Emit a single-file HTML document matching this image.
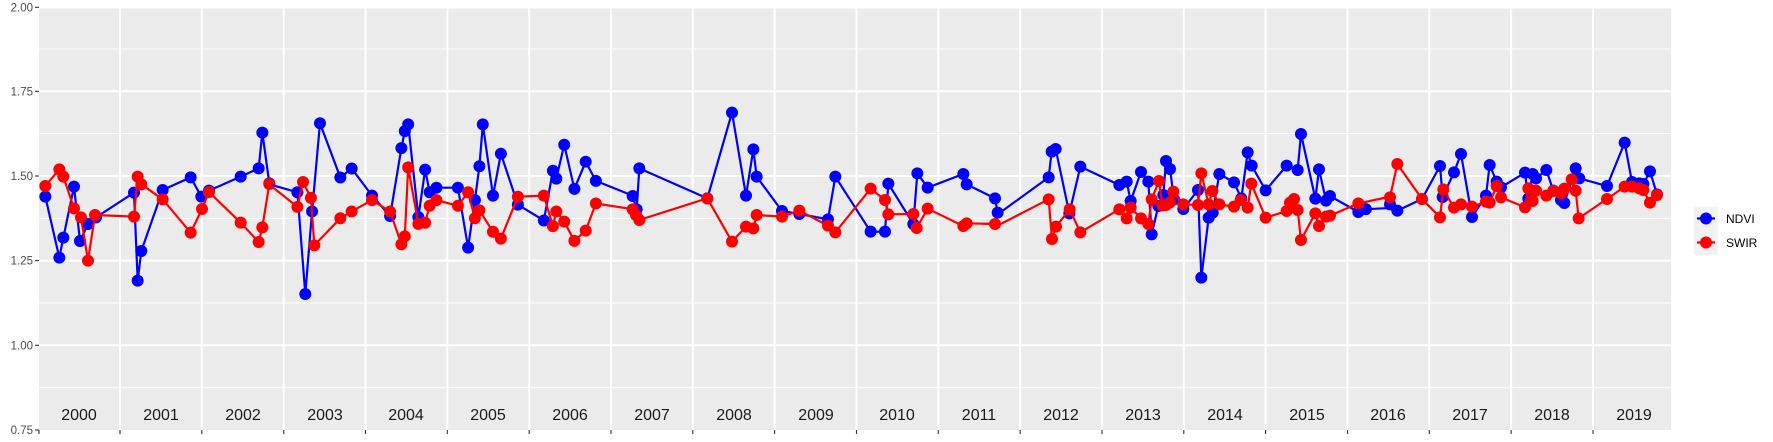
<!DOCTYPE html>
<html><head><meta charset="utf-8"><style>
html,body{margin:0;padding:0;background:#fff;}
svg{display:block;font-family:"Liberation Sans",sans-serif;}
</style></head><body>
<svg width="1773" height="442" viewBox="0 0 1773 442" xmlns="http://www.w3.org/2000/svg">
<rect x="39" y="6.6" width="1632" height="423.4" fill="#ebebeb"/>
<g stroke="#fff" stroke-width="0.9">
<line x1="39" x2="1671" y1="48.9" y2="48.9"/><line x1="39" x2="1671" y1="133.6" y2="133.6"/>
<line x1="39" x2="1671" y1="218.3" y2="218.3"/><line x1="39" x2="1671" y1="303" y2="303"/>
<line x1="39" x2="1671" y1="387.7" y2="387.7"/>
</g>
<g stroke="#fff" stroke-width="2">
<line x1="39" x2="1671" y1="7.5" y2="7.5"/><line x1="39" x2="1671" y1="91.3" y2="91.3"/>
<line x1="39" x2="1671" y1="176" y2="176"/><line x1="39" x2="1671" y1="260.6" y2="260.6"/>
<line x1="39" x2="1671" y1="345.3" y2="345.3"/>
<line x1="120" x2="120" y1="7" y2="430"/><line x1="201.8" x2="201.8" y1="7" y2="430"/>
<line x1="283.7" x2="283.7" y1="7" y2="430"/><line x1="365.5" x2="365.5" y1="7" y2="430"/>
<line x1="447.3" x2="447.3" y1="7" y2="430"/><line x1="529.2" x2="529.2" y1="7" y2="430"/>
<line x1="611" x2="611" y1="7" y2="430"/><line x1="692.8" x2="692.8" y1="7" y2="430"/>
<line x1="774.6" x2="774.6" y1="7" y2="430"/><line x1="856.5" x2="856.5" y1="7" y2="430"/>
<line x1="938.3" x2="938.3" y1="7" y2="430"/><line x1="1020.1" x2="1020.1" y1="7" y2="430"/>
<line x1="1102" x2="1102" y1="7" y2="430"/><line x1="1183.8" x2="1183.8" y1="7" y2="430"/>
<line x1="1265.6" x2="1265.6" y1="7" y2="430"/><line x1="1347.5" x2="1347.5" y1="7" y2="430"/>
<line x1="1429.3" x2="1429.3" y1="7" y2="430"/><line x1="1511.1" x2="1511.1" y1="7" y2="430"/>
<line x1="1593" x2="1593" y1="7" y2="430"/>
</g>
<g stroke="#333" stroke-width="1.1">
<line x1="35" x2="39" y1="7.3" y2="7.3"/><line x1="35" x2="39" y1="91.3" y2="91.3"/>
<line x1="35" x2="39" y1="176" y2="176"/><line x1="35" x2="39" y1="260.6" y2="260.6"/>
<line x1="35" x2="39" y1="345.3" y2="345.3"/><line x1="35" x2="39" y1="430" y2="430"/>
<line x1="39" x2="39" y1="430" y2="434"/>
<line x1="120" x2="120" y1="430" y2="434"/><line x1="201.8" x2="201.8" y1="430" y2="434"/>
<line x1="283.7" x2="283.7" y1="430" y2="434"/><line x1="365.5" x2="365.5" y1="430" y2="434"/>
<line x1="447.3" x2="447.3" y1="430" y2="434"/><line x1="529.2" x2="529.2" y1="430" y2="434"/>
<line x1="611" x2="611" y1="430" y2="434"/><line x1="692.8" x2="692.8" y1="430" y2="434"/>
<line x1="774.6" x2="774.6" y1="430" y2="434"/><line x1="856.5" x2="856.5" y1="430" y2="434"/>
<line x1="938.3" x2="938.3" y1="430" y2="434"/><line x1="1020.1" x2="1020.1" y1="430" y2="434"/>
<line x1="1102" x2="1102" y1="430" y2="434"/><line x1="1183.8" x2="1183.8" y1="430" y2="434"/>
<line x1="1265.6" x2="1265.6" y1="430" y2="434"/><line x1="1347.5" x2="1347.5" y1="430" y2="434"/>
<line x1="1429.3" x2="1429.3" y1="430" y2="434"/><line x1="1511.1" x2="1511.1" y1="430" y2="434"/>
<line x1="1593" x2="1593" y1="430" y2="434"/>
</g>
<g font-size="11.5" fill="#4d4d4d" text-anchor="end">
<text x="33" y="11.5">2.00</text><text x="33" y="95.5">1.75</text><text x="33" y="180">1.50</text>
<text x="33" y="264.5">1.25</text><text x="33" y="349.5">1.00</text><text x="33" y="434">0.75</text>
</g>
<g font-size="16" fill="#1a1a1a" text-anchor="middle">
<text x="79" y="420">2000</text><text x="161" y="420">2001</text><text x="243" y="420">2002</text>
<text x="325" y="420">2003</text><text x="406" y="420">2004</text><text x="488" y="420">2005</text>
<text x="570" y="420">2006</text><text x="652" y="420">2007</text><text x="734" y="420">2008</text>
<text x="816" y="420">2009</text><text x="897" y="420">2010</text><text x="979" y="420">2011</text>
<text x="1061" y="420">2012</text><text x="1143" y="420">2013</text><text x="1225" y="420">2014</text>
<text x="1307" y="420">2015</text><text x="1388" y="420">2016</text><text x="1470" y="420">2017</text>
<text x="1552" y="420">2018</text><text x="1634" y="420">2019</text>
</g>

<!-- zoom1 (2000-2002) -->
<g transform="scale(0.33333)">
<polyline fill="none" stroke="#0000ff" stroke-width="6.6" points="136,590 178,773 190,713 222,560 240,723 264,672 288,652 402,578 413,842 424,753 488,570 572,532 604,590 627,572 722,530 776,505 787,398 808,550"/>
<g fill="#0000ff"><circle cx="136" cy="590" r="18"/><circle cx="178" cy="773" r="18"/><circle cx="190" cy="713" r="18"/><circle cx="222" cy="560" r="18"/><circle cx="240" cy="723" r="18"/><circle cx="264" cy="672" r="18"/><circle cx="288" cy="652" r="18"/><circle cx="402" cy="578" r="18"/><circle cx="413" cy="842" r="18"/><circle cx="424" cy="753" r="18"/><circle cx="488" cy="570" r="18"/><circle cx="572" cy="532" r="18"/><circle cx="604" cy="590" r="18"/><circle cx="627" cy="572" r="18"/><circle cx="722" cy="530" r="18"/><circle cx="776" cy="505" r="18"/><circle cx="787" cy="398" r="18"/><circle cx="808" cy="550" r="18"/></g>
<polyline fill="none" stroke="#ff0000" stroke-width="6.6" points="136,558 178,508 190,530 222,625 243,652 264,782 285,645 402,650 413,530 424,553 488,598 572,698 606,627 627,576 722,668 776,726 787,682 808,552"/>
<g fill="#ff0000"><circle cx="136" cy="558" r="18"/><circle cx="178" cy="508" r="18"/><circle cx="190" cy="530" r="18"/><circle cx="222" cy="625" r="18"/><circle cx="243" cy="652" r="18"/><circle cx="264" cy="782" r="18"/><circle cx="285" cy="645" r="18"/><circle cx="402" cy="650" r="18"/><circle cx="413" cy="530" r="18"/><circle cx="424" cy="553" r="18"/><circle cx="488" cy="598" r="18"/><circle cx="572" cy="698" r="18"/><circle cx="606" cy="627" r="18"/><circle cx="627" cy="576" r="18"/><circle cx="722" cy="668" r="18"/><circle cx="776" cy="726" r="18"/><circle cx="787" cy="682" r="18"/><circle cx="808" cy="552" r="18"/></g>
</g>

<!-- thumbnail coords: 2003-2007 and 2016 start -->
<g transform="scale(1.1307)">
<polyline fill="none" stroke="#0000ff" stroke-width="1.95" points="238,163 263,170 270,260 276,187 283,109 301,157 311,149 329,173 345,191 355,131 358,116 361,110 370,192 376,150 380,170 386,166 405,166 414,219 420,177 424,147 427,110 436,173 443,136 458,181 481,195 489,151 492,158 499,128 508,167 518,143 527,160 559.5,173"/>
<g fill="#0000ff">
<circle cx="263" cy="170" r="5.3"/><circle cx="270" cy="260" r="5.3"/><circle cx="276" cy="187" r="5.3"/><circle cx="283" cy="109" r="5.3"/><circle cx="301" cy="157" r="5.3"/><circle cx="311" cy="149" r="5.3"/><circle cx="329" cy="173" r="5.3"/><circle cx="345" cy="191" r="5.3"/><circle cx="355" cy="131" r="5.3"/><circle cx="358" cy="116" r="5.3"/><circle cx="361" cy="110" r="5.3"/><circle cx="370" cy="192" r="5.3"/><circle cx="376" cy="150" r="5.3"/><circle cx="380" cy="170" r="5.3"/><circle cx="386" cy="166" r="5.3"/><circle cx="405" cy="166" r="5.3"/><circle cx="414" cy="219" r="5.3"/><circle cx="420" cy="177" r="5.3"/><circle cx="424" cy="147" r="5.3"/><circle cx="427" cy="110" r="5.3"/><circle cx="436" cy="173" r="5.3"/><circle cx="443" cy="136" r="5.3"/><circle cx="458" cy="181" r="5.3"/><circle cx="481" cy="195" r="5.3"/><circle cx="489" cy="151" r="5.3"/><circle cx="492" cy="158" r="5.3"/><circle cx="499" cy="128" r="5.3"/><circle cx="508" cy="167" r="5.3"/><circle cx="518" cy="143" r="5.3"/><circle cx="527" cy="160" r="5.3"/>
</g>
<polyline fill="none" stroke="#ff0000" stroke-width="1.95" points="238,163 263,183 268,161 275,175 278,217 301,193 311,187 329,177 345,187 355,216 358,209 361,148 370,198 376,197 380,182 386,177 405,182 414,170 420,193 424,186 436,205 443,211 458,174 481,173 489,200 492,187 499,196 508,213 518,204 527,180 559.5,185"/>
<g fill="#ff0000">
<circle cx="263" cy="183" r="5.3"/><circle cx="268" cy="161" r="5.3"/><circle cx="275" cy="175" r="5.3"/><circle cx="278" cy="217" r="5.3"/><circle cx="301" cy="193" r="5.3"/><circle cx="311" cy="187" r="5.3"/><circle cx="329" cy="177" r="5.3"/><circle cx="345" cy="187" r="5.3"/><circle cx="355" cy="216" r="5.3"/><circle cx="358" cy="209" r="5.3"/><circle cx="361" cy="148" r="5.3"/><circle cx="370" cy="198" r="5.3"/><circle cx="376" cy="197" r="5.3"/><circle cx="380" cy="182" r="5.3"/><circle cx="386" cy="177" r="5.3"/><circle cx="405" cy="182" r="5.3"/><circle cx="414" cy="170" r="5.3"/><circle cx="420" cy="193" r="5.3"/><circle cx="424" cy="186" r="5.3"/><circle cx="436" cy="205" r="5.3"/><circle cx="443" cy="211" r="5.3"/><circle cx="458" cy="174" r="5.3"/><circle cx="481" cy="173" r="5.3"/><circle cx="489" cy="200" r="5.3"/><circle cx="492" cy="187" r="5.3"/><circle cx="499" cy="196" r="5.3"/><circle cx="508" cy="213" r="5.3"/><circle cx="518" cy="204" r="5.3"/><circle cx="527" cy="180" r="5.3"/>
</g>
<polyline fill="none" stroke="#0000ff" stroke-width="1.95" points="1201,187.5 1208,185 1229,184"/>
<circle cx="1208" cy="185" r="5.3" fill="#0000ff"/>
<polyline fill="none" stroke="#ff0000" stroke-width="1.95" points="1201,180 1229,174"/>
</g>

<!-- zoom A (x 620-1000) -->
<g transform="translate(620,80) scale(0.33333)">
<polyline fill="none" stroke="#0000ff" stroke-width="6.6" points="38,348 50,388 58,265 262,355 336,98 378,347 400,208 410,290 486,393 538,402 624,418 646,290 752,455 795,455 805,311 880,432 892,280 923,323 1030,282 1040,313 1125,355 1133,398"/>
<g fill="#0000ff"><circle cx="38" cy="348" r="18"/><circle cx="50" cy="388" r="18"/><circle cx="58" cy="265" r="18"/><circle cx="262" cy="355" r="18"/><circle cx="336" cy="98" r="18"/><circle cx="378" cy="347" r="18"/><circle cx="400" cy="208" r="18"/><circle cx="410" cy="290" r="18"/><circle cx="486" cy="393" r="18"/><circle cx="538" cy="402" r="18"/><circle cx="624" cy="418" r="18"/><circle cx="646" cy="290" r="18"/><circle cx="752" cy="455" r="18"/><circle cx="795" cy="455" r="18"/><circle cx="805" cy="311" r="18"/><circle cx="880" cy="432" r="18"/><circle cx="892" cy="280" r="18"/><circle cx="923" cy="323" r="18"/><circle cx="1030" cy="282" r="18"/><circle cx="1040" cy="313" r="18"/><circle cx="1125" cy="355" r="18"/><circle cx="1133" cy="398" r="18"/></g>
<polyline fill="none" stroke="#ff0000" stroke-width="6.6" points="38,388 48,405 58,420 262,355 336,485 378,440 400,445 410,405 486,410 538,392 624,437 646,457 752,326 795,360 805,403 880,402 890,444 923,386 1030,438 1040,430 1125,432 1140,431"/>
<g fill="#ff0000"><circle cx="38" cy="388" r="18"/><circle cx="48" cy="405" r="18"/><circle cx="58" cy="420" r="18"/><circle cx="262" cy="355" r="18"/><circle cx="336" cy="485" r="18"/><circle cx="378" cy="440" r="18"/><circle cx="400" cy="445" r="18"/><circle cx="410" cy="405" r="18"/><circle cx="486" cy="410" r="18"/><circle cx="538" cy="392" r="18"/><circle cx="624" cy="437" r="18"/><circle cx="646" cy="457" r="18"/><circle cx="752" cy="326" r="18"/><circle cx="795" cy="360" r="18"/><circle cx="805" cy="403" r="18"/><circle cx="880" cy="402" r="18"/><circle cx="890" cy="444" r="18"/><circle cx="923" cy="386" r="18"/><circle cx="1030" cy="438" r="18"/><circle cx="1040" cy="430" r="18"/><circle cx="1125" cy="432" r="18"/></g>
</g>

<!-- zoom B (x 1000-1380) -->
<g transform="translate(1000,100) scale(0.33333)">
<polyline fill="none" stroke="#0000ff" stroke-width="6.6" points="0,338 146,232 155,155 167,147 208,340 241,200 358,255 380,245 392,303 423,216 445,245 455,403 475,318 490,285 498,183 510,207 522,298 550,327 594,270 604,533 626,353 638,338 658,222 702,247 724,295 743,157 755,197 797,271 860,197 893,210 903,102 946,296 957,208 978,302 990,288 1075,336"/>
<g fill="#0000ff"><circle cx="146" cy="232" r="18"/><circle cx="155" cy="155" r="18"/><circle cx="167" cy="147" r="18"/><circle cx="208" cy="340" r="18"/><circle cx="241" cy="200" r="18"/><circle cx="358" cy="255" r="18"/><circle cx="380" cy="245" r="18"/><circle cx="392" cy="303" r="18"/><circle cx="423" cy="216" r="18"/><circle cx="445" cy="245" r="18"/><circle cx="455" cy="403" r="18"/><circle cx="475" cy="318" r="18"/><circle cx="490" cy="285" r="18"/><circle cx="498" cy="183" r="18"/><circle cx="510" cy="207" r="18"/><circle cx="522" cy="298" r="18"/><circle cx="550" cy="327" r="18"/><circle cx="594" cy="270" r="18"/><circle cx="604" cy="533" r="18"/><circle cx="626" cy="353" r="18"/><circle cx="638" cy="338" r="18"/><circle cx="658" cy="222" r="18"/><circle cx="702" cy="247" r="18"/><circle cx="724" cy="295" r="18"/><circle cx="743" cy="157" r="18"/><circle cx="755" cy="197" r="18"/><circle cx="797" cy="271" r="18"/><circle cx="860" cy="197" r="18"/><circle cx="893" cy="210" r="18"/><circle cx="903" cy="102" r="18"/><circle cx="946" cy="296" r="18"/><circle cx="957" cy="208" r="18"/><circle cx="978" cy="302" r="18"/><circle cx="990" cy="288" r="18"/><circle cx="1075" cy="336" r="18"/></g>
<polyline fill="none" stroke="#ff0000" stroke-width="6.6" points="-45,371 0,373 146,298 156,417 168,380 209,328 241,397 358,328 380,355 392,323 423,355 445,372 455,298 477,243 487,316 498,315 510,307 520,275 550,313 594,315 604,220 626,313 637,273 658,313 702,320 722,300 743,323 754,251 797,353 860,333 870,308 882,297 893,330 903,420 946,340 957,378 978,350 990,347 1075,310"/>
<g fill="#ff0000"><circle cx="146" cy="298" r="18"/><circle cx="156" cy="417" r="18"/><circle cx="168" cy="380" r="18"/><circle cx="209" cy="328" r="18"/><circle cx="241" cy="397" r="18"/><circle cx="358" cy="328" r="18"/><circle cx="380" cy="355" r="18"/><circle cx="392" cy="323" r="18"/><circle cx="423" cy="355" r="18"/><circle cx="445" cy="372" r="18"/><circle cx="455" cy="298" r="18"/><circle cx="477" cy="243" r="18"/><circle cx="487" cy="316" r="18"/><circle cx="498" cy="315" r="18"/><circle cx="510" cy="307" r="18"/><circle cx="520" cy="275" r="18"/><circle cx="550" cy="313" r="18"/><circle cx="594" cy="315" r="18"/><circle cx="604" cy="220" r="18"/><circle cx="626" cy="313" r="18"/><circle cx="637" cy="273" r="18"/><circle cx="658" cy="313" r="18"/><circle cx="702" cy="320" r="18"/><circle cx="722" cy="300" r="18"/><circle cx="743" cy="323" r="18"/><circle cx="754" cy="251" r="18"/><circle cx="797" cy="353" r="18"/><circle cx="860" cy="333" r="18"/><circle cx="870" cy="308" r="18"/><circle cx="882" cy="297" r="18"/><circle cx="893" cy="330" r="18"/><circle cx="903" cy="420" r="18"/><circle cx="946" cy="340" r="18"/><circle cx="957" cy="378" r="18"/><circle cx="978" cy="350" r="18"/><circle cx="990" cy="347" r="18"/><circle cx="1075" cy="310" r="18"/></g>
</g>

<!-- zoom C (2016-2019) -->
<g transform="translate(1380,100) scale(0.33333)">
<polyline fill="none" stroke="#0000ff" stroke-width="6.6" points="30,313 52,332 126,297 180,198 188,291 222,217 243,162 276,351 318,287 329,195 350,245 363,262 435,218 445,296 458,222 468,235 499,210 520,272 543,300 553,309 587,205 598,235 681,258 734,128 756,246 778,250 790,252 810,214 831,283"/>
<g fill="#0000ff"><circle cx="30" cy="313" r="18"/><circle cx="52" cy="332" r="18"/><circle cx="126" cy="297" r="18"/><circle cx="180" cy="198" r="18"/><circle cx="188" cy="291" r="18"/><circle cx="222" cy="217" r="18"/><circle cx="243" cy="162" r="18"/><circle cx="276" cy="351" r="18"/><circle cx="318" cy="287" r="18"/><circle cx="329" cy="195" r="18"/><circle cx="350" cy="245" r="18"/><circle cx="363" cy="262" r="18"/><circle cx="435" cy="218" r="18"/><circle cx="445" cy="296" r="18"/><circle cx="458" cy="222" r="18"/><circle cx="468" cy="235" r="18"/><circle cx="499" cy="210" r="18"/><circle cx="520" cy="272" r="18"/><circle cx="543" cy="300" r="18"/><circle cx="553" cy="309" r="18"/><circle cx="587" cy="205" r="18"/><circle cx="598" cy="235" r="18"/><circle cx="681" cy="258" r="18"/><circle cx="734" cy="128" r="18"/><circle cx="756" cy="246" r="18"/><circle cx="778" cy="250" r="18"/><circle cx="790" cy="252" r="18"/><circle cx="810" cy="214" r="18"/><circle cx="831" cy="283" r="18"/></g>
<polyline fill="none" stroke="#ff0000" stroke-width="6.6" points="30,292 52,192 126,297 180,352 190,268 222,323 243,313 276,320 318,305 329,308 350,258 363,292 435,322 445,265 458,303 468,272 499,287 520,273 543,280 553,266 575,238 587,272 596,355 681,297 734,260 756,260 778,265 790,270 810,308 831,285"/>
<g fill="#ff0000"><circle cx="30" cy="292" r="18"/><circle cx="52" cy="192" r="18"/><circle cx="126" cy="297" r="18"/><circle cx="180" cy="352" r="18"/><circle cx="190" cy="268" r="18"/><circle cx="222" cy="323" r="18"/><circle cx="243" cy="313" r="18"/><circle cx="276" cy="320" r="18"/><circle cx="318" cy="305" r="18"/><circle cx="329" cy="308" r="18"/><circle cx="350" cy="258" r="18"/><circle cx="363" cy="292" r="18"/><circle cx="435" cy="322" r="18"/><circle cx="445" cy="265" r="18"/><circle cx="458" cy="303" r="18"/><circle cx="468" cy="272" r="18"/><circle cx="499" cy="287" r="18"/><circle cx="520" cy="273" r="18"/><circle cx="543" cy="280" r="18"/><circle cx="553" cy="266" r="18"/><circle cx="575" cy="238" r="18"/><circle cx="587" cy="272" r="18"/><circle cx="596" cy="355" r="18"/><circle cx="681" cy="297" r="18"/><circle cx="734" cy="260" r="18"/><circle cx="756" cy="260" r="18"/><circle cx="778" cy="265" r="18"/><circle cx="790" cy="270" r="18"/><circle cx="810" cy="308" r="18"/><circle cx="831" cy="285" r="18"/></g>
</g>

<!-- legend -->
<rect x="1694" y="207" width="24" height="48" fill="#f2f2f2"/>
<line x1="1697" x2="1715" y1="218.5" y2="218.5" stroke="#0000ff" stroke-width="2.2"/>
<circle cx="1706" cy="218.5" r="6" fill="#0000ff"/>
<line x1="1697" x2="1715" y1="242.5" y2="242.5" stroke="#ff0000" stroke-width="2.2"/>
<circle cx="1706" cy="242.5" r="6" fill="#ff0000"/>
<text x="1726" y="223" font-size="12" fill="#000">NDVI</text>
<text x="1726" y="247" font-size="12" fill="#000">SWIR</text>
</svg>
</body></html>
